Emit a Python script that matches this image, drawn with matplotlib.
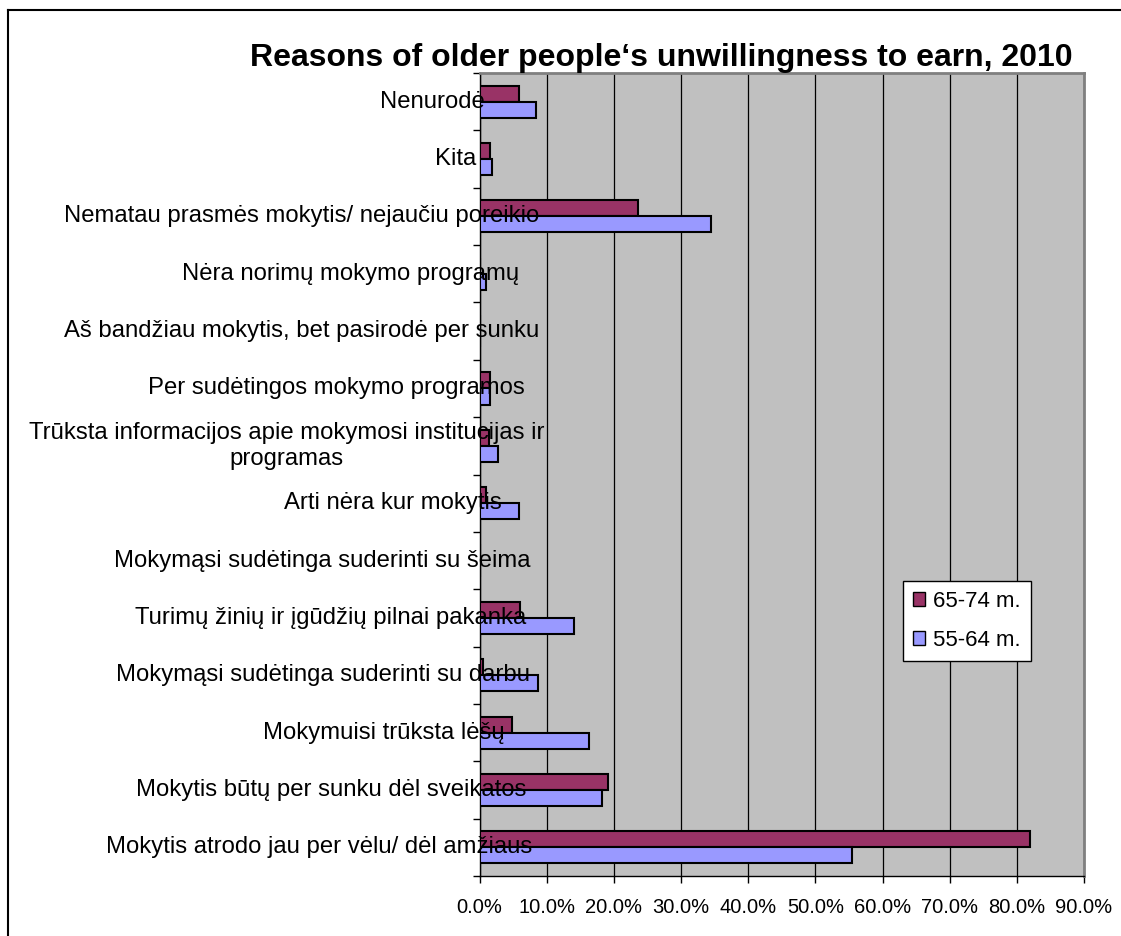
import numpy as np
import matplotlib
matplotlib.use("Agg")
import matplotlib.pyplot as plt
from matplotlib.patches import Patch
from matplotlib.lines import Line2D
from matplotlib.transforms import blended_transform_factory

plt.rcParams['font.family'] = ['Liberation Sans', 'DejaVu Sans']

# Kategorijos (iš viršaus į apačią)
kategorijos = [
    "Nenurodė",
    "Kita",
    "Nematau prasmės mokytis/ nejaučiu poreikio",
    "Nėra norimų mokymo programų",
    "Aš bandžiau mokytis, bet pasirodė per sunku",
    "Per sudėtingos mokymo programos",
    "Trūksta informacijos apie mokymosi institucijas ir\nprogramas",
    "Arti nėra kur mokytis",
    "Mokymąsi sudėtinga suderinti su šeima",
    "Turimų žinių ir įgūdžių pilnai pakanka",
    "Mokymąsi sudėtinga suderinti su darbu",
    "Mokymuisi trūksta lėšų",
    "Mokytis būtų per sunku dėl sveikatos",
    "Mokytis atrodo jau per vėlu/ dėl amžiaus",
]
amzius_65_74 = [5.9, 1.6, 23.6, 0.0, 0.0, 1.6, 1.4, 1.0, 0.0, 6.1, 0.5, 4.8, 19.1, 82.0]
amzius_55_64 = [8.4, 1.9, 34.5, 1.0, 0.0, 1.6, 2.7, 5.9, 0.0, 14.0, 8.7, 16.3, 18.2, 55.5]
x_zymes = [0, 10, 20, 30, 40, 50, 60, 70, 80, 90]
pavadinimas = "Reasons of older people‘s unwillingness to earn, 2010"

W, H = 1121, 936
fig = plt.figure(figsize=(W / 100, H / 100), dpi=100)

# plot area in pixel coordinates
kaire, desine, virsus, apacia = 479.5, 1084, 73, 876
ax = fig.add_axes([kaire / W, 1 - apacia / H, (desine - kaire) / W, (apacia - virsus) / H])
ax.set_facecolor('#C0C0C0')

n = len(kategorijos)
y = np.arange(n)[::-1]
aukstis = 0.28
ax.barh(y + aukstis / 2, amzius_65_74, height=aukstis, color='#993366',
        edgecolor='black', linewidth=1.5, label='65-74 m.', zorder=3)
ax.barh(y - aukstis / 2, amzius_55_64, height=aukstis, color='#9999FF',
        edgecolor='black', linewidth=1.5, label='55-64 m.', zorder=3)

ax.set_xlim(0, 90)
ax.set_ylim(-0.5, n - 0.5)
ax.set_xticks(x_zymes)
ax.set_xticklabels([f"{v:.1f}%" for v in x_zymes], fontsize=14.5)
ax.xaxis.grid(True, color='black', linewidth=0.9, zorder=1)
ax.set_axisbelow(True)
ax.set_yticks(np.arange(-0.5, n, 1.0))
ax.set_yticklabels([])
ax.tick_params(axis='x', direction='out', length=5, width=1, pad=11)
ax.tick_params(axis='y', direction='out', length=5, width=1)

for s in ['left', 'bottom']:
    ax.spines[s].set_color('black')
    ax.spines[s].set_linewidth(1)
for s in ['top', 'right']:
    ax.spines[s].set_color('#808080')
    ax.spines[s].set_linewidth(2)

# category labels, spilling into the plot like in the original
tr = blended_transform_factory(ax.transAxes, ax.transData)
plotis = desine - kaire
inkaras = (470 - kaire) / plotis
teksai = []
for i, k in enumerate(kategorijos):
    t = ax.text(0, y[i], k, transform=tr, ha='left', va='center',
                fontsize=17.2, multialignment='center', zorder=5, clip_on=False)
    teksai.append(t)
fig.canvas.draw()
r = fig.canvas.get_renderer()
for t in teksai:
    w = t.get_window_extent(renderer=r).width
    t.set_x(inkaras - 0.855 * w / plotis)

# title
fig.text(661.5 / W, 1 - 58 / H, pavadinimas, ha='center', va='center',
         fontsize=23, fontweight='bold')

# legend
rankenos = [Patch(facecolor='#993366', edgecolor='black', label='65-74 m.'),
            Patch(facecolor='#9999FF', edgecolor='black', label='55-64 m.')]
leg = fig.legend(handles=rankenos, loc='upper left',
                 bbox_to_anchor=(903 / W, 1 - 581 / H), fontsize=16,
                 frameon=True, fancybox=False, edgecolor='black', framealpha=1,
                 facecolor='white',
                 handlelength=0.55, handleheight=0.55, handletextpad=0.35,
                 borderpad=0.45, labelspacing=0.8, borderaxespad=0)
leg.get_frame().set_linewidth(1)

# outer chart border
fig.add_artist(Line2D([8 / W, 8 / W], [0, 1 - 10 / H], color='black', linewidth=1.5))
fig.add_artist(Line2D([8 / W, 1], [1 - 10 / H, 1 - 10 / H], color='black', linewidth=1.5))

fig.savefig('out.png', dpi=100)
